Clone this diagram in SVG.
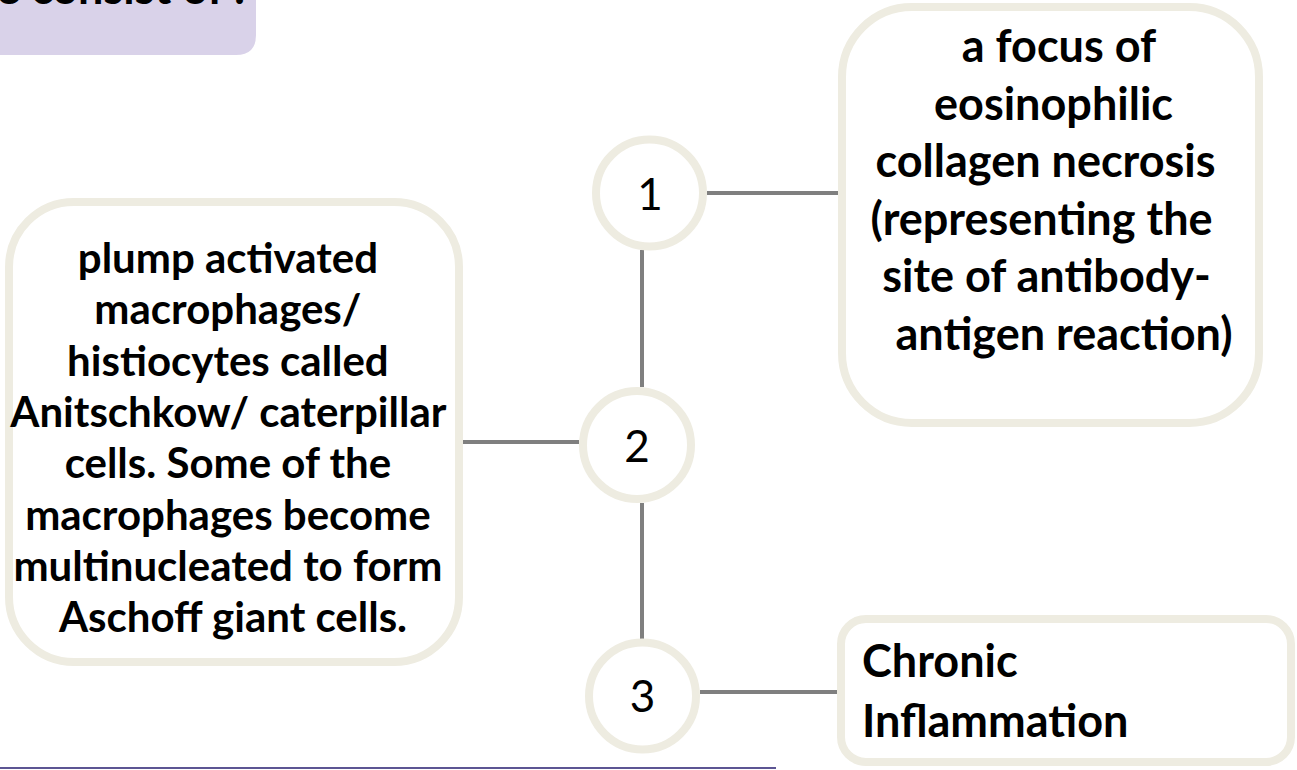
<svg xmlns="http://www.w3.org/2000/svg" width="1297" height="770" viewBox="0 0 1297 770">
<style>
.box{fill:#ffffff;stroke:#EEECE1;stroke-width:8}
.circ{fill:#ffffff;stroke:#EEECE1;stroke-width:8}
.conn{stroke:#7F7F7F;stroke-width:4;fill:none}
.t{font-family:Lato,"Liberation Sans",sans-serif;font-weight:bold;fill:#000}
.c{text-anchor:middle}
.num{font-family:Lato,"Liberation Sans",sans-serif;font-size:44px;fill:#000;text-anchor:middle}
</style>
<rect width="1297" height="770" fill="#ffffff"/>
<g id="title">
<path d="M-10,-10 H256 V35 Q256,55 236,55 H-10 Z" fill="#D9D2E9"/>
<text class="t" x="-4" y="4" font-size="45">e consist of :</text>
</g>
<g id="connectors">
<line class="conn" x1="642" y1="250" x2="642" y2="387"/>
<line class="conn" x1="642" y1="503" x2="642" y2="639"/>
<line class="conn" x1="707" y1="193" x2="838" y2="193"/>
<line class="conn" x1="463" y1="442" x2="579" y2="442"/>
<line class="conn" x1="700" y1="692" x2="838" y2="692"/>
</g>
<g id="n1">
<circle class="circ" cx="649.5" cy="193" r="53.5"/>
<text class="num" x="650" y="210">1</text>
</g>
<g id="n2">
<circle class="circ" cx="637" cy="445" r="54"/>
<text class="num" x="637" y="462">2</text>
</g>
<g id="n3">
<circle class="circ" cx="642.5" cy="696" r="53.5"/>
<text class="num" x="642.5" y="712">3</text>
</g>
<g id="box1">
<rect class="box" x="842" y="7" width="417" height="416" rx="70"/>
<text class="t c" font-size="45">
<tspan x="1064" y="62">a focus of</tspan>
<tspan x="1059" y="120">eosinophilic</tspan>
<tspan x="1051" y="177">collagen necrosis</tspan>
<tspan x="1047" y="235">(representing the</tspan>
<tspan x="1052" y="292">site of antibody-</tspan>
<tspan x="1064" y="350">antigen reaction)</tspan>
</text>
</g>
<g id="box2">
<rect class="box" x="9" y="202" width="450" height="460" rx="65"/>
<text class="t c" font-size="42">
<tspan x="233" y="273">plump activated</tspan>
<tspan x="233" y="324">macrophages/</tspan>
<tspan x="233" y="376">histiocytes called</tspan>
<tspan x="233" y="427">Anitschkow/ caterpillar</tspan>
<tspan x="233" y="478">cells. Some of the</tspan>
<tspan x="233" y="530">macrophages become</tspan>
<tspan x="233" y="581">multinucleated to form</tspan>
<tspan x="233" y="632">Aschoff giant cells.</tspan>
</text>
</g>
<g id="box3">
<rect class="box" x="841" y="619" width="450" height="143" rx="25"/>
<text class="t" font-size="45">
<tspan x="862" y="677">Chronic</tspan>
<tspan x="862" y="737">Inflammation</tspan>
</text>
</g>
<line x1="0" y1="768" x2="776" y2="768" stroke="#5C5593" stroke-width="2"/>
</svg>
